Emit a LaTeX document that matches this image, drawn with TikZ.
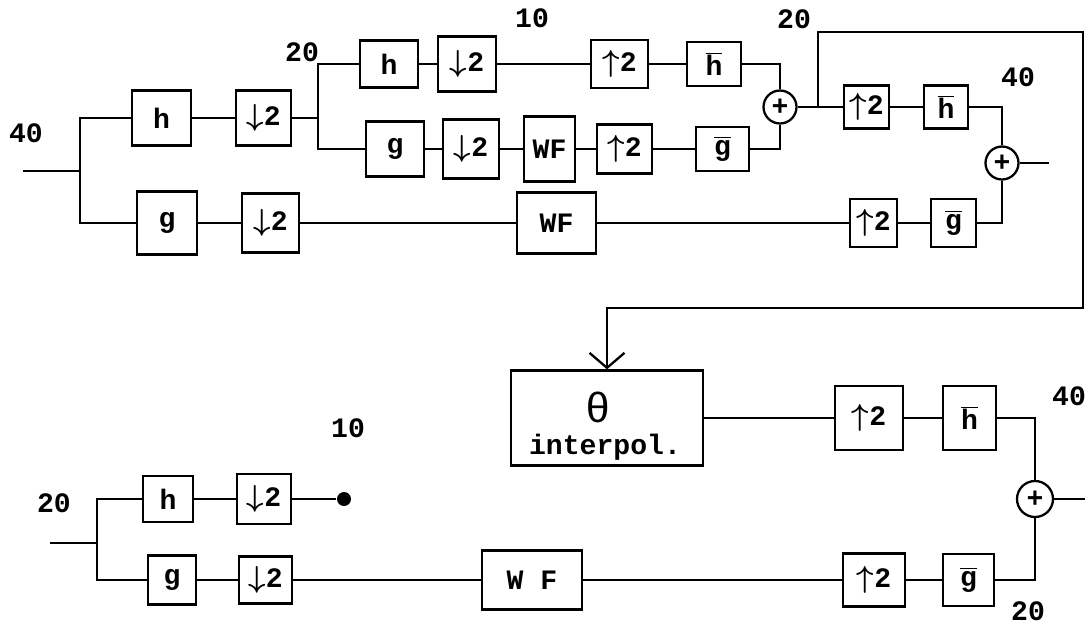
\documentclass[tikz,border=0pt]{standalone}
\usepackage{fontspec}
\setmainfont{Liberation Mono}
\usetikzlibrary{arrows.meta}
\newcommand\dn{{\boldmath$\downarrow$}}
\newcommand\upa{{\boldmath$\uparrow$}}
\newcommand\hb{$\overline{\hbox{h}}$}
\newcommand\gb{$\overline{\hbox{g}}$}
\newcommand\mybox[6]{\node[blk,minimum width={#4*0.02cm},minimum height={#5*0.02cm}] (#1) at (#2,#3) {#6};}
\begin{document}
\begin{tikzpicture}[x=0.02cm,y=-0.02cm,line width=1.3pt,
  every node/.style={font=\bfseries\fontsize{16}{18}\selectfont},
  blk/.style={draw,inner sep=0pt},
  sum/.style={draw,circle,inner sep=0pt,minimum size=0.66cm},
  lbl/.style={inner sep=0pt},
  fb/.style={-{Straight Barb[length=0.3cm,width=0.7cm]}}]
\useasboundingbox (0,0) rectangle (1085,626);
% ---------- top section ----------
\mybox{h1}{161.5}{118}{59}{55}{h}
\mybox{d1}{263.5}{118}{55}{55}{\dn2}
\mybox{g1}{167}{223}{60}{63}{g}
\mybox{d2}{270.5}{223}{57}{59}{\dn2}
\mybox{h2}{389}{64}{58}{47}{h}
\mybox{d3}{467}{64}{58}{55}{\dn2}
\mybox{u1}{619.5}{64}{57}{48}{\upa2}
\mybox{hb1}{714}{64}{54}{44}{\hb}
\mybox{g2}{395}{149}{58}{55}{g}
\mybox{d4}{471}{149}{56}{59}{\dn2}
\mybox{wf1}{549.5}{149}{51}{65}{WF}
\mybox{u2}{624.5}{149}{55}{49}{\upa2}
\mybox{gb1}{722.5}{149}{53}{44}{\gb}
\node[sum] (sum1) at (780,107) {+};
\mybox{u3}{866.5}{107}{45}{43}{\upa2}
\mybox{hb2}{946}{107}{44}{43}{\hb}
\node[sum] (sum2) at (1002,163) {+};
\mybox{wf2}{556.5}{223}{79}{61}{WF}
\mybox{u4}{873.5}{223}{47}{48}{\upa2}
\mybox{gb2}{953.5}{223}{45}{48}{\gb}
\coordinate (in0) at (23,171);
\coordinate (s1) at (80,171);
\coordinate (s2) at (318,118);
\coordinate (J) at (818,107);
\coordinate (fb1) at (1083,32);
\coordinate (fb2) at (1083,308);
\coordinate (out1) at (1049,163);
\draw (in0) -- (s1);
\draw (s1) |- (h1);
\draw (s1) |- (g1);
\draw (h1) -- (d1) -- (s2);
\draw (s2) |- (h2);
\draw (s2) |- (g2);
\draw (h2) -- (d3) -- (u1) -- (hb1);
\draw (g2) -- (d4) -- (wf1) -- (u2) -- (gb1);
\draw (hb1) -| (sum1);
\draw (gb1) -| (sum1);
\draw (sum1) -- (u3) -- (hb2);
\draw (hb2) -| (sum2);
\draw (g1) -- (d2) -- (wf2) -- (u4) -- (gb2);
\draw (gb2) -| (sum2);
\draw (sum2) -- (out1);
% labels
\node[lbl] (l40a) at (26,133) {40};
\node[lbl] (l20a) at (302,52) {20};
\node[lbl] (l10a) at (532,18) {10};
\node[lbl] (l20b) at (794,19) {20};
\node[lbl] (l40b) at (1018,77) {40};
% ---------- bottom section ----------
\mybox{ip}{607}{418}{192}{95}{}
\node[lbl] (th) at (598,407) {\mdseries\fontsize{24}{26}\selectfont θ};
\node[lbl] (ipl) at (605,447) {interpol.};
\draw[fb] (J) |- (fb1) -- (fb2) -| (ip.north);
\mybox{u5}{869}{418}{68}{64}{\upa2}
\mybox{hb3}{969.5}{418}{53}{64}{\hb}
\node[sum,minimum size=0.72cm] (sum3) at (1035,499) {+};
\mybox{h3}{168}{499}{50}{46}{h}
\mybox{d5}{264}{499}{54}{50}{\dn2}
\node[circle,fill,inner sep=0pt,minimum size=0.28cm] (dot) at (344,499) {};
\mybox{g3}{172}{580}{48}{49}{g}
\mybox{d6}{265.5}{580}{53}{47}{\dn2}
\mybox{wf3}{532}{580}{100}{59}{W F}
\mybox{u6}{874}{580}{62}{53}{\upa2}
\mybox{gb3}{968.5}{580}{51}{52}{\gb}
\coordinate (in1) at (50,543);
\coordinate (s3) at (97,543);
\coordinate (out2) at (1085,499);
\draw (ip) -- (u5) -- (hb3);
\draw (hb3) -| (sum3);
\draw (gb3) -| (sum3);
\draw (sum3) -- (out2);
\draw (in1) -- (s3);
\draw (s3) |- (h3);
\draw (s3) |- (g3);
\draw (h3) -- (d5) -- (dot);
\draw (g3) -- (d6) -- (wf3) -- (u6) -- (gb3);
\node[lbl] (l10b) at (348,428) {10};
\node[lbl] (l20c) at (54,503) {20};
\node[lbl] (l40c) at (1069,396) {40};
\node[lbl] (l20d) at (1028,611) {20};
\end{tikzpicture}
\end{document}
